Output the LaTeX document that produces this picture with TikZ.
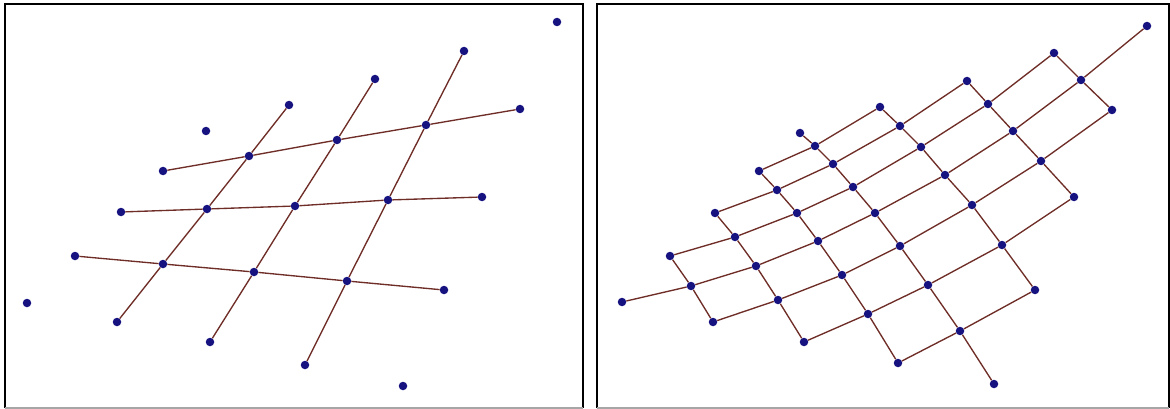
\documentclass[tikz,border=0pt]{standalone}
\usetikzlibrary{positioning}
\definecolor{dotblue}{RGB}{22,18,128}
\definecolor{linebrown}{RGB}{110,45,38}
\tikzset{
  pt/.style={circle, fill=dotblue, inner sep=0pt, minimum size=8.5pt},
  ln/.style={draw=linebrown, line width=1.35pt},
  frame/.style={draw=black, line width=2.2pt},
  framelow/.style={draw=black!35, line width=2pt}
}
\begin{document}
\begin{tikzpicture}[x=1pt, y=-1pt]
\useasboundingbox (0,0) rectangle (1170,409);
% panel frames
\draw[frame] (5,408) -- (5,4) -- (583,4) -- (583,408);
\draw[framelow] (5,408) -- (583,408);
\draw[frame] (597,408) -- (597,4) -- (1169,4) -- (1169,408);
\draw[framelow] (597,408) -- (1169,408);

% left panel: three by three crossings
\node[pt] (g11) at (249,156) {}; \node[pt] (g12) at (337,140) {}; \node[pt] (g13) at (426,125) {};
\node[pt] (g21) at (207,209) {}; \node[pt] (g22) at (295,206) {}; \node[pt] (g23) at (388,200) {};
\node[pt] (g31) at (163,264) {}; \node[pt] (g32) at (254,272) {}; \node[pt] (g33) at (347,281) {};
\node[pt] (hl1) at (163,171) {}; \node[pt] (hr1) at (520,109) {};
\node[pt] (hl2) at (121,212) {}; \node[pt] (hr2) at (482,197) {};
\node[pt] (hl3) at (75,256) {};  \node[pt] (hr3) at (444,290) {};
\node[pt] (db1) at (117,322) {}; \node[pt] (dt1) at (289,105) {};
\node[pt] (db2) at (210,342) {}; \node[pt] (dt2) at (375,79) {};
\node[pt] (db3) at (305,365) {}; \node[pt] (dt3) at (464,51) {};
\node[pt] (s1) at (206,131) {}; \node[pt] (s2) at (557,22) {};
\node[pt] (s3) at (27,303) {};  \node[pt] (s4) at (403,386) {};
\draw[ln] (hl1) -- (g11) -- (g12) -- (g13) -- (hr1);
\draw[ln] (hl2) -- (g21) -- (g22) -- (g23) -- (hr2);
\draw[ln] (hl3) -- (g31) -- (g32) -- (g33) -- (hr3);
\draw[ln] (db1) -- (g31) -- (g21) -- (g11) -- (dt1);
\draw[ln] (db2) -- (g32) -- (g22) -- (g12) -- (dt2);
\draw[ln] (db3) -- (g33) -- (g23) -- (g13) -- (dt3);

% right panel: diamond of points, columns a..i, rows 0..8
\node[pt] (a4) at (622,302) {};
\node[pt] (b3) at (670,256) {}; \node[pt] (b4) at (691,286) {}; \node[pt] (b5) at (713,322) {};
\node[pt] (c2) at (715,213) {}; \node[pt] (c3) at (735,237) {}; \node[pt] (c4) at (756,266) {};
\node[pt] (c5) at (778,300) {}; \node[pt] (c6) at (804,342) {};
\node[pt] (d1) at (759,171) {}; \node[pt] (d2) at (777,190) {}; \node[pt] (d3) at (797,213) {};
\node[pt] (d4) at (818,241) {}; \node[pt] (d5) at (842,275) {}; \node[pt] (d6) at (868,314) {};
\node[pt] (d7) at (898,363) {};
\node[pt] (e0) at (800,133) {}; \node[pt] (e1) at (815,146) {}; \node[pt] (e2) at (833,164) {};
\node[pt] (e3) at (853,187) {}; \node[pt] (e4) at (875,213) {}; \node[pt] (e5) at (900,246) {};
\node[pt] (e6) at (928,285) {}; \node[pt] (e7) at (960,331) {}; \node[pt] (e8) at (994,384) {};
\node[pt] (f1) at (880,107) {}; \node[pt] (f2) at (900,126) {}; \node[pt] (f3) at (921,147) {};
\node[pt] (f4) at (945,175) {}; \node[pt] (f5) at (972,205) {}; \node[pt] (f6) at (1002,245) {};
\node[pt] (f7) at (1035,290) {};
\node[pt] (g2) at (967,81) {}; \node[pt] (g3) at (988,104) {}; \node[pt] (g4) at (1013,131) {};
\node[pt] (g5) at (1041,161) {}; \node[pt] (g6) at (1074,197) {};
\node[pt] (h3) at (1054,53) {}; \node[pt] (h4) at (1081,80) {}; \node[pt] (h5) at (1112,110) {};
\node[pt] (i4) at (1147,26) {};
% rows
\draw[ln] (d1) -- (e1) -- (f1);
\draw[ln] (c2) -- (d2) -- (e2) -- (f2) -- (g2);
\draw[ln] (b3) -- (c3) -- (d3) -- (e3) -- (f3) -- (g3) -- (h3);
\draw[ln] (a4) -- (b4) -- (c4) -- (d4) -- (e4) -- (f4) -- (g4) -- (h4) -- (i4);
\draw[ln] (b5) -- (c5) -- (d5) -- (e5) -- (f5) -- (g5) -- (h5);
\draw[ln] (c6) -- (d6) -- (e6) -- (f6) -- (g6);
\draw[ln] (d7) -- (e7) -- (f7);
% columns
\draw[ln] (b3) -- (b4) -- (b5);
\draw[ln] (c2) -- (c3) -- (c4) -- (c5) -- (c6);
\draw[ln] (d1) -- (d2) -- (d3) -- (d4) -- (d5) -- (d6) -- (d7);
\draw[ln] (e0) -- (e1) -- (e2) -- (e3) -- (e4) -- (e5) -- (e6) -- (e7) -- (e8);
\draw[ln] (f1) -- (f2) -- (f3) -- (f4) -- (f5) -- (f6) -- (f7);
\draw[ln] (g2) -- (g3) -- (g4) -- (g5) -- (g6);
\draw[ln] (h3) -- (h4) -- (h5);
\end{tikzpicture}
\end{document}
